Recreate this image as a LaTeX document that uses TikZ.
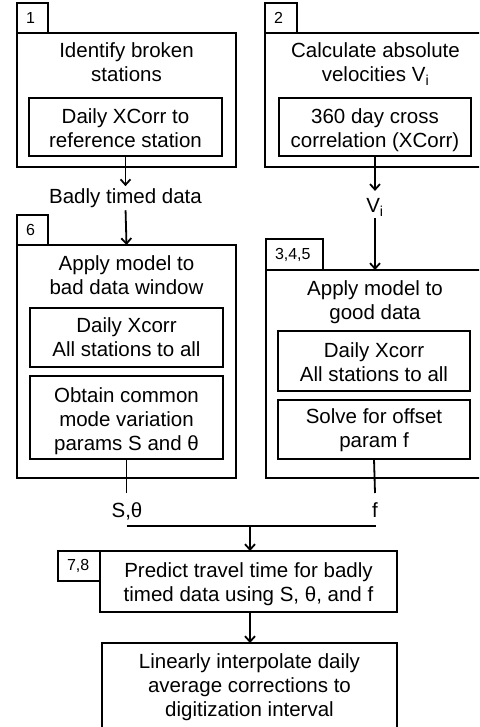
\documentclass[tikz,border=0pt]{standalone}
\usepackage{fontspec}
\setmainfont{Liberation Sans}
\usetikzlibrary{arrows.meta}
% invisible rule that fixes the height of the first line of a text block
\newcommand\capstrut{\rule{0pt}{16pt}}

\begin{document}
\begin{tikzpicture}[x=1pt,y=-1pt,
  every node/.style={inner sep=0pt, outer sep=0pt},
  frame/.style={draw, line width=1.8pt, anchor=north west},
  body/.style={font=\fontsize{20.5}{24}\selectfont, align=center, anchor=north},
  label/.style={font=\fontsize{20.5}{24}\selectfont, anchor=base},
  tag/.style={draw, line width=1.8pt, anchor=north west, minimum height=30pt,
    inner xsep=9pt, align=left, font=\fontsize{16}{18}\selectfont},
  link/.style={line width=1.8pt},
  flow/.style={link, -{Straight Barb[length=5.5pt,width=10pt,line width=1.8pt]}},
]
\clip (0,0) rectangle (479,727);

% ---- step 1: identify broken stations
\node[tag, text width=13pt] (tag1) at (17,3) {1};
\node[frame, minimum width=219pt, minimum height=134pt] (box1) at (17,33) {};
\node[body] (title1) at (126.5,42) {\capstrut Identify broken\\stations};
\node[frame, minimum width=193pt, minimum height=58pt] (in1) at (29,98) {};
\node[body] (text1) at (125.5,108) {\capstrut Daily XCorr to\\reference station};
\node[label] (bad) at (125.5,204) {Badly timed data};

% ---- step 2: absolute velocities
\node[tag, text width=14pt] (tag2) at (265,3) {2};
\node[frame, minimum width=221pt, minimum height=134pt] (box2) at (265,33) {};
\node[body] (title2) at (375.5,42) {\capstrut Calculate absolute\\velocities V\textsubscript{i}};
\node[frame, minimum width=192pt, minimum height=58pt] (in2) at (279,98) {};
\node[body] (text2) at (375,108) {\capstrut 360 day cross\\correlation (XCorr)};
\node[label] (vel) at (375,213) {V\textsubscript{i}};

% ---- step 6: model on the bad data window
\node[tag, text width=13pt] (tag6) at (17,215) {6};
\node[frame, minimum width=219pt, minimum height=233pt] (box6) at (17,245) {};
\node[body] (title6) at (126.5,254) {\capstrut Apply model to\\bad data window};
\node[frame, minimum width=193pt, minimum height=59pt] (in6a) at (30,308) {};
\node[body] (text6a) at (126.5,316) {\capstrut Daily Xcorr\\All stations to all};
\node[frame, minimum width=193pt, minimum height=83pt] (in6b) at (30,376) {};
\node[body] (text6b) at (126.5,386) {\capstrut Obtain common\\mode variation\\params S and θ};

% ---- steps 3,4,5: model on the good data
\node[tag, text width=39pt, minimum height=31pt] (tag345) at (266,239) {3,4,5};
\node[frame, minimum width=220pt, minimum height=208pt] (box345) at (266,270) {};
\node[body] (title345) at (375,279) {\capstrut Apply model to\\good data};
\node[frame, minimum width=192pt, minimum height=60pt] (in345a) at (278,331) {};
\node[body] (text345a) at (374,341) {\capstrut Daily Xcorr\\All stations to all};
\node[frame, minimum width=192pt, minimum height=59pt] (in345b) at (278,400) {};
\node[body] (text345b) at (374,407) {\capstrut Solve for offset\\param f};

% ---- outputs of the two models
\node[label] (stheta) at (127,517) {S,θ};
\node[label] (foff) at (375,517) {f};
\coordinate (sEnd) at (126.5,493);
\coordinate (fEnd) at (375,493);
\coordinate (jl) at (126.5,526);
\coordinate (jr) at (376,526);
\coordinate (jm) at (250,526);

% ---- steps 7,8: prediction and interpolation
\node[tag, text width=24pt] (tag78) at (58,551) {7,8};
\node[frame, minimum width=297pt, minimum height=61pt] (box78) at (100,551) {};
\node[body] (text78) at (248.5,561) {\capstrut Predict travel time for badly\\timed data using S, θ, and f};
\node[frame, minimum width=295pt, minimum height=100pt] (final) at (102,643) {};
\node[body] (textfinal) at (249.5,652) {\capstrut Linearly interpolate daily\\average corrections to\\digitization interval};

% ---- connectors
\draw[flow, shorten >=3pt] (in1.south) -- (bad.north);
\draw[flow, shorten <=2pt] (bad.south) -- (box6.north);
\draw[flow, shorten >=8pt] (in2.south) -- (vel.north);
\draw[flow, shorten <=2pt] (vel.south) -- (vel.south |- box345.north);
\draw[link] (in6b.south) -- (sEnd);
\draw[link] (in345b.south) -- (fEnd);
\draw[link] (jl) -- (jr);
\draw[flow] (jm) -- (jm |- box78.north);
\draw[flow] (jm |- box78.south) -- (jm |- final.north);
\end{tikzpicture}
\end{document}
